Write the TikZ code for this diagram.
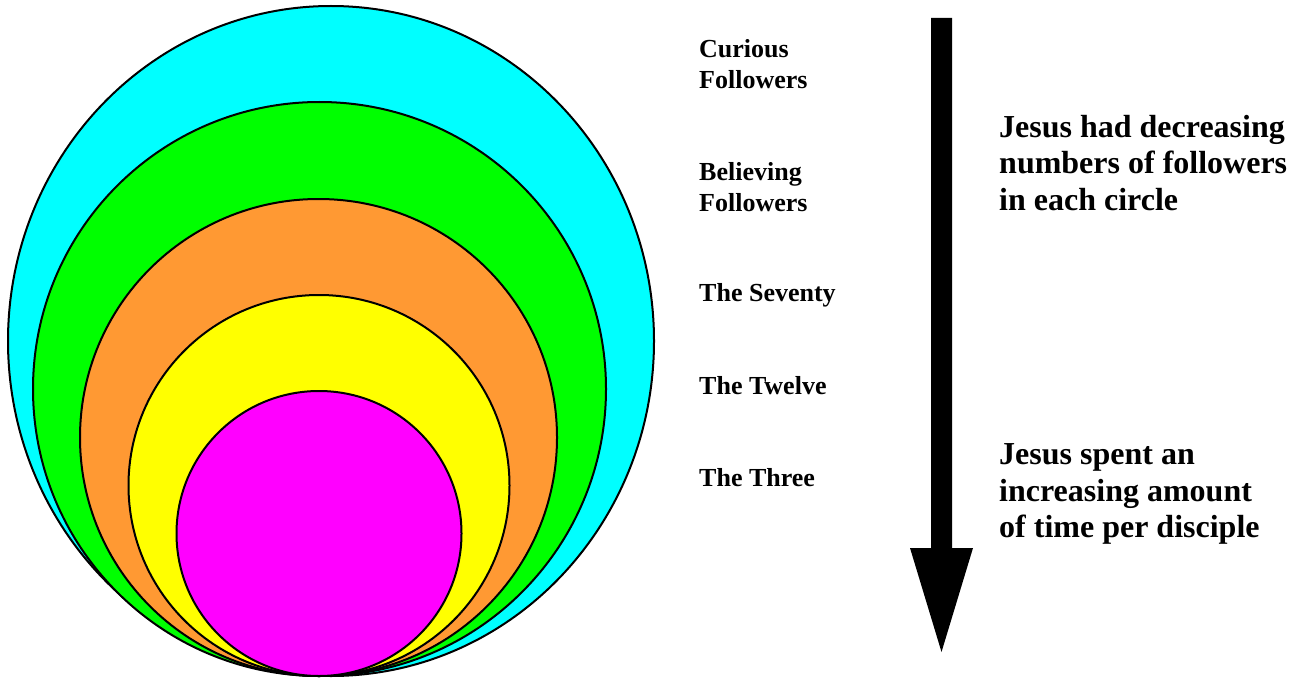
\documentclass[tikz,border=0pt]{standalone}
\usepackage{fontspec}
\setmainfont{Liberation Serif}
\begin{document}
\begin{tikzpicture}[x=1pt,y=-1pt,
  ring/.style={draw=black,line width=2pt},
  lbl/.style={anchor=west,inner sep=0pt,align=left,font=\fontsize{26}{30.5}\selectfont\bfseries},
  big/.style={anchor=west,inner sep=0pt,align=left,font=\fontsize{32}{36.5}\selectfont\bfseries}]
\useasboundingbox (0,0) rectangle (1300,679);
\definecolor{cy}{RGB}{0,255,255}
\definecolor{gr}{RGB}{0,255,0}
\definecolor{og}{RGB}{255,153,51}
\definecolor{ye}{RGB}{255,255,0}
\definecolor{mg}{RGB}{255,0,255}
\draw[ring,fill=cy] (331,341) ellipse [x radius=323,y radius=335];
\draw[ring,fill=gr] (319.5,389) ellipse [x radius=286.5,y radius=287];
\draw[ring,fill=og] (318.5,437.5) circle [radius=238.5];
\draw[ring,fill=ye] (319,485.5) circle [radius=190.5];
\draw[ring,fill=mg] (319,533.5) circle [radius=142.5];
\node[lbl] (cur) at (699,64) {Curious\\Followers};
\node[lbl] (bel) at (699,187) {Believing\\Followers};
\node[lbl] (sev) at (699,295) {The Seventy};
\node[lbl] (twe) at (699,386) {The Twelve};
\node[lbl] (thr) at (699,478) {The Three};
\node[big] (dec) at (999,163) {Jesus had decreasing\\numbers of followers\\in each circle};
\node[big] (inc) at (999,494) {Jesus spent an\\increasing amount\\of time per disciple};
\fill[black] (931,18) -- (952,18) -- (952,548) -- (973,548) -- (941.5,652) -- (910,548) -- (931,548) -- cycle;
\end{tikzpicture}
\end{document}
